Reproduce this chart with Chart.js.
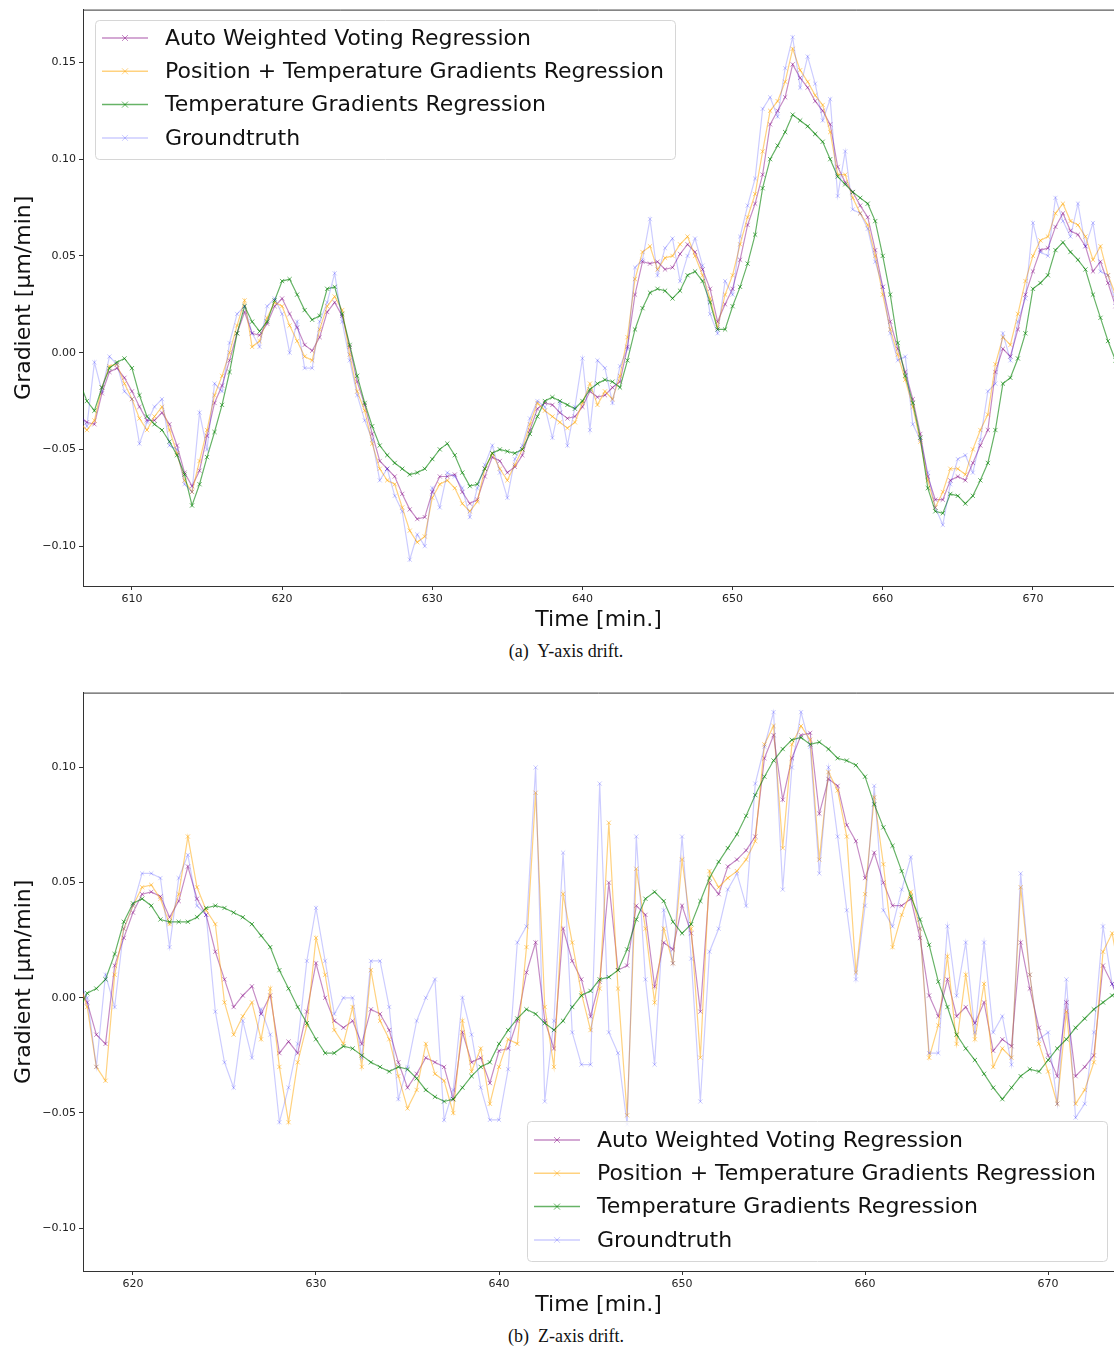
<!DOCTYPE html>
<html lang="en">
<head>
<meta charset="UTF-8">
<title>Y / Z axis drift gradients</title>
<script src="https://cdn.jsdelivr.net/npm/chart.js"></script>
<style>
  body { margin: 0; background: #fff; width: 1114px; height: 1349px; overflow: hidden; position: relative; }
  .plot { position: absolute; left: 0; }
  #chartA { top: 0; }
  #chartB { top: 683px; }
  .caption {
    position: absolute; left: 0; width: 1132px; text-align: center;
    font-family: 'Liberation Serif', 'DejaVu Serif', serif; font-size: 18px; color: #111;
  }
</style>
</head>
<body>
<canvas id="chartA" class="plot" width="1114" height="640"></canvas>
<div class="caption" style="top:641px">(a)&nbsp; Y-axis drift.</div>
<canvas id="chartB" class="plot" width="1114" height="642"></canvas>
<div class="caption" style="top:1326px">(b)&nbsp; Z-axis drift.</div>

<script>
// ---- data (gradient in um/min, sampled every 0.5 min) ----
const labels = ['Auto Weighted Voting Regression', 'Position + Temperature Gradients Regression',
                'Temperature Gradients Regression', 'Groundtruth'];

// (a) Y-axis, first sample at 606.5 min
const startA = 606.5;
const awvA = [
  -0.033, -0.036, -0.037, -0.021, -0.010, -0.008, -0.013, -0.020, -0.028, -0.035,
  -0.035, -0.031, -0.037, -0.048, -0.062, -0.069, -0.061, -0.043, -0.026, -0.017,
  -0.004, 0.010, 0.021, 0.010, 0.009, 0.015, 0.024, 0.028, 0.020, 0.013,
  0.004, 0.001, 0.008, 0.021, 0.026, 0.019, 0.003, -0.015, -0.027, -0.042,
  -0.056, -0.060, -0.064, -0.073, -0.081, -0.086, -0.085, -0.072, -0.064, -0.064,
  -0.063, -0.072, -0.078, -0.076, -0.064, -0.054, -0.056, -0.062, -0.059, -0.053,
  -0.040, -0.029, -0.026, -0.027, -0.031, -0.034, -0.033, -0.028, -0.020, -0.023,
  -0.022, -0.018, -0.015, 0.003, 0.030, 0.047, 0.046, 0.047, 0.043, 0.044,
  0.051, 0.056, 0.052, 0.043, 0.033, 0.016, 0.025, 0.033, 0.048, 0.066,
  0.077, 0.092, 0.118, 0.125, 0.132, 0.149, 0.142, 0.137, 0.130, 0.125,
  0.118, 0.096, 0.088, 0.083, 0.076, 0.070, 0.053, 0.034, 0.016, 0.002,
  -0.010, -0.024, -0.042, -0.064, -0.076, -0.076, -0.066, -0.064, -0.066, -0.057,
  -0.048, -0.040, -0.010, 0.002, -0.002, 0.012, 0.030, 0.042, 0.053, 0.054,
  0.065, 0.072, 0.063, 0.061, 0.055, 0.042, 0.047, 0.036, 0.024
];
const posA = [
  -0.036, -0.040, -0.035, -0.018, -0.007, -0.006, -0.016, -0.024, -0.034, -0.040,
  -0.033, -0.028, -0.040, -0.052, -0.066, -0.072, -0.056, -0.040, -0.022, -0.012,
  0.000, 0.014, 0.027, 0.003, 0.006, 0.018, 0.026, 0.024, 0.014, 0.006,
  -0.002, -0.004, 0.012, 0.024, 0.029, 0.022, -0.001, -0.020, -0.030, -0.047,
  -0.060, -0.066, -0.068, -0.080, -0.092, -0.098, -0.095, -0.075, -0.068, -0.066,
  -0.070, -0.078, -0.082, -0.077, -0.060, -0.052, -0.060, -0.066, -0.058, -0.050,
  -0.037, -0.026, -0.030, -0.033, -0.036, -0.039, -0.036, -0.026, -0.016, -0.027,
  -0.020, -0.024, -0.012, 0.008, 0.038, 0.052, 0.055, 0.043, 0.049, 0.050,
  0.056, 0.060, 0.050, 0.040, 0.028, 0.013, 0.030, 0.040, 0.056, 0.070,
  0.082, 0.104, 0.125, 0.130, 0.140, 0.157, 0.146, 0.140, 0.133, 0.128,
  0.114, 0.092, 0.092, 0.080, 0.072, 0.066, 0.050, 0.030, 0.012, -0.001,
  -0.014, -0.028, -0.046, -0.066, -0.080, -0.072, -0.060, -0.060, -0.063, -0.050,
  -0.040, -0.032, -0.006, 0.008, 0.004, 0.020, 0.037, 0.050, 0.058, 0.060,
  0.072, 0.077, 0.068, 0.066, 0.060, 0.048, 0.055, 0.040, 0.030
];
const tempA = [
  -0.015, -0.025, -0.030, -0.018, -0.008, -0.005, -0.003, -0.008, -0.022, -0.033,
  -0.037, -0.040, -0.046, -0.053, -0.063, -0.079, -0.068, -0.054, -0.041, -0.027,
  -0.010, 0.010, 0.024, 0.016, 0.011, 0.016, 0.027, 0.037, 0.038, 0.030,
  0.022, 0.017, 0.019, 0.033, 0.034, 0.020, 0.004, -0.012, -0.026, -0.038,
  -0.048, -0.053, -0.057, -0.060, -0.063, -0.062, -0.060, -0.055, -0.050, -0.047,
  -0.053, -0.062, -0.069, -0.068, -0.060, -0.052, -0.050, -0.051, -0.052, -0.050,
  -0.042, -0.033, -0.025, -0.023, -0.025, -0.027, -0.029, -0.025, -0.019, -0.016,
  -0.014, -0.015, -0.018, -0.004, 0.012, 0.023, 0.031, 0.033, 0.032, 0.028,
  0.032, 0.040, 0.042, 0.037, 0.026, 0.012, 0.012, 0.024, 0.034, 0.046,
  0.061, 0.085, 0.100, 0.107, 0.114, 0.123, 0.120, 0.117, 0.113, 0.109,
  0.100, 0.091, 0.087, 0.083, 0.080, 0.077, 0.068, 0.050, 0.030, 0.005,
  -0.012, -0.026, -0.044, -0.070, -0.082, -0.083, -0.073, -0.074, -0.078, -0.074,
  -0.066, -0.057, -0.040, -0.016, -0.013, -0.003, 0.010, 0.033, 0.036, 0.040,
  0.053, 0.057, 0.052, 0.048, 0.043, 0.030, 0.018, 0.006, -0.004
];
const truthA = [
  -0.030, -0.038, -0.005, -0.020, -0.002, -0.006, -0.020, -0.024, -0.047, -0.036,
  -0.028, -0.024, -0.048, -0.050, -0.068, -0.072, -0.031, -0.050, -0.016, -0.020,
  0.005, 0.020, 0.024, 0.010, 0.003, 0.024, 0.028, 0.020, 0.000, 0.016,
  -0.008, -0.008, 0.016, 0.026, 0.041, 0.016, -0.004, -0.022, -0.035, -0.045,
  -0.066, -0.060, -0.074, -0.082, -0.107, -0.094, -0.100, -0.070, -0.080, -0.062,
  -0.064, -0.070, -0.085, -0.070, -0.058, -0.048, -0.062, -0.075, -0.055, -0.048,
  -0.034, -0.025, -0.028, -0.044, -0.026, -0.048, -0.028, -0.003, -0.040, -0.004,
  -0.008, -0.026, -0.007, 0.002, 0.044, 0.048, 0.069, 0.040, 0.054, 0.059,
  0.037, 0.050, 0.059, 0.045, 0.020, 0.010, 0.037, 0.030, 0.060, 0.076,
  0.090, 0.126, 0.132, 0.122, 0.147, 0.163, 0.137, 0.153, 0.139, 0.120,
  0.131, 0.081, 0.104, 0.074, 0.072, 0.064, 0.047, 0.034, 0.010, -0.004,
  -0.002, -0.037, -0.045, -0.062, -0.080, -0.089, -0.068, -0.055, -0.053, -0.062,
  -0.045, -0.020, -0.016, 0.010, -0.004, 0.016, 0.028, 0.067, 0.052, 0.050,
  0.080, 0.068, 0.060, 0.077, 0.055, 0.067, 0.042, 0.040, 0.026
];

// (b) Z-axis, first sample at 617.0 min
const startB = 617.0;
const awvB = [
  0.006, -0.002, -0.016, -0.020, 0.014, 0.026, 0.037, 0.045, 0.046, 0.044,
  0.035, 0.042, 0.057, 0.043, 0.036, 0.020, 0.008, -0.004, 0.001, 0.005,
  -0.007, 0.001, -0.024, -0.019, -0.024, -0.006, 0.015, 0.000, -0.010, -0.013,
  -0.010, -0.020, -0.005, -0.007, -0.014, -0.028, -0.039, -0.033, -0.026, -0.028,
  -0.030, -0.044, -0.015, -0.028, -0.026, -0.037, -0.023, -0.022, -0.010, 0.011,
  0.024, -0.010, -0.022, 0.030, 0.016, 0.008, -0.008, 0.007, 0.050, 0.012,
  0.014, 0.040, 0.036, 0.005, 0.024, 0.021, 0.040, 0.028, -0.006, 0.050,
  0.045, 0.057, 0.060, 0.064, 0.070, 0.104, 0.114, 0.086, 0.104, 0.114,
  0.115, 0.080, 0.095, 0.092, 0.075, 0.068, 0.052, 0.063, 0.050, 0.040,
  0.040, 0.043, 0.026, 0.001, -0.008, 0.008, -0.008, -0.004, -0.011, -0.002,
  -0.023, -0.018, -0.021, 0.024, 0.004, -0.013, -0.025, -0.034, -0.002, -0.034,
  -0.030, -0.025, 0.014, 0.006, -0.004
];
const posB = [
  0.008, -0.004, -0.030, -0.036, 0.010, 0.030, 0.040, 0.048, 0.049, 0.043,
  0.032, 0.045, 0.070, 0.048, 0.038, 0.032, -0.002, -0.016, -0.008, -0.002,
  -0.018, 0.004, -0.030, -0.054, -0.028, -0.012, 0.026, 0.010, -0.014, -0.020,
  -0.004, -0.030, 0.012, -0.010, -0.018, -0.034, -0.048, -0.040, -0.020, -0.033,
  -0.036, -0.050, -0.010, -0.032, -0.022, -0.046, -0.030, -0.018, -0.020, 0.022,
  0.089, -0.004, -0.030, 0.045, 0.024, 0.002, -0.014, 0.004, 0.076, 0.004,
  -0.051, 0.056, 0.030, -0.002, 0.030, 0.015, 0.060, 0.030, -0.026, 0.055,
  0.048, 0.052, 0.055, 0.060, 0.068, 0.110, 0.118, 0.065, 0.110, 0.118,
  0.112, 0.060, 0.098, 0.090, 0.070, 0.011, 0.045, 0.087, 0.058, 0.022,
  0.036, 0.046, 0.030, -0.026, -0.012, 0.018, -0.020, 0.010, -0.018, 0.006,
  -0.030, -0.022, -0.026, 0.048, 0.010, -0.020, -0.032, -0.046, -0.006, -0.046,
  -0.040, -0.028, 0.020, 0.028, 0.006
];
const tempB = [
  -0.006, 0.002, 0.004, 0.008, 0.019, 0.033, 0.041, 0.043, 0.040, 0.034,
  0.033, 0.033, 0.033, 0.035, 0.039, 0.040, 0.039, 0.037, 0.035, 0.032,
  0.027, 0.022, 0.012, 0.004, -0.004, -0.011, -0.018, -0.024, -0.024, -0.021,
  -0.022, -0.025, -0.028, -0.030, -0.032, -0.030, -0.031, -0.035, -0.040, -0.043,
  -0.045, -0.044, -0.039, -0.034, -0.030, -0.028, -0.020, -0.014, -0.009, -0.005,
  -0.007, -0.011, -0.014, -0.010, -0.004, 0.001, 0.003, 0.008, 0.009, 0.012,
  0.021, 0.034, 0.043, 0.046, 0.042, 0.033, 0.028, 0.032, 0.042, 0.052,
  0.059, 0.065, 0.071, 0.079, 0.088, 0.096, 0.103, 0.108, 0.112, 0.113,
  0.110, 0.111, 0.108, 0.104, 0.103, 0.101, 0.096, 0.084, 0.074, 0.066,
  0.055, 0.044, 0.034, 0.023, 0.007, -0.004, -0.016, -0.022, -0.027, -0.033,
  -0.039, -0.044, -0.039, -0.034, -0.031, -0.032, -0.027, -0.022, -0.018, -0.013,
  -0.009, -0.005, -0.002, 0.001, 0.004
];
const truthB = [
  0.008, 0.000, -0.030, 0.010, -0.004, 0.030, 0.040, 0.054, 0.054, 0.052,
  0.022, 0.052, 0.062, 0.040, 0.036, -0.006, -0.028, -0.039, -0.010, -0.026,
  -0.005, -0.016, -0.054, -0.039, -0.020, 0.016, 0.039, 0.016, -0.007, 0.000,
  0.000, -0.026, 0.016, 0.016, -0.004, -0.044, -0.030, -0.010, 0.000, 0.008,
  -0.053, -0.040, 0.000, -0.016, -0.039, -0.053, -0.053, -0.031, 0.024, 0.031,
  0.100, -0.045, -0.010, 0.063, -0.015, -0.029, -0.029, 0.093, -0.015, -0.024,
  -0.055, 0.070, 0.008, -0.029, 0.038, 0.015, 0.070, 0.017, -0.045, 0.020,
  0.030, 0.047, 0.054, 0.040, 0.093, 0.109, 0.124, 0.047, 0.100, 0.124,
  0.109, 0.054, 0.100, 0.070, 0.038, 0.008, 0.040, 0.092, 0.038, 0.031,
  0.047, 0.061, 0.030, -0.024, -0.024, 0.031, 0.001, 0.024, -0.015, 0.024,
  -0.015, -0.008, -0.029, 0.054, 0.010, -0.018, -0.015, -0.046, 0.008, -0.052,
  -0.046, -0.015, 0.031, 0.006, -0.004
];

const xTicksA = [610, 620, 630, 640, 650, 660, 670];
const yTicksA = [-0.10, -0.05, 0.00, 0.05, 0.10, 0.15];
const xTicksB = [620, 630, 640, 650, 660, 670];
const yTicksB = [-0.10, -0.05, 0.00, 0.05, 0.10];

const colors = ['rgba(128,0,128,0.45)', 'rgba(255,165,0,0.5)', 'rgba(0,128,0,0.6)', 'rgba(0,0,255,0.2)'];

Chart.defaults.font.family = "'DejaVu Sans', sans-serif";

// legend drawn inside the axes like matplotlib's
const boxLegend = {
  id: 'boxLegend',
  afterDraw(chart, args, o) {
    const ctx = chart.ctx;
    ctx.save();
    ctx.beginPath();
    ctx.roundRect(o.x + 0.5, o.y + 0.5, o.w, o.h, 4);
    ctx.fillStyle = 'rgba(255,255,255,0.8)';
    ctx.fill();
    ctx.strokeStyle = '#d6d6d6';
    ctx.lineWidth = 1;
    ctx.stroke();
    ctx.font = "22px 'DejaVu Sans'";
    ctx.textBaseline = 'middle';
    chart.data.datasets.forEach((ds, i) => {
      const y = o.y + o.first + i * o.gap;
      ctx.strokeStyle = ds.borderColor;
      ctx.lineWidth = 1.5;
      ctx.beginPath();
      ctx.moveTo(o.x + 7, y);
      ctx.lineTo(o.x + 53, y);
      ctx.stroke();
      const cx = o.x + 30, r = 3;
      ctx.lineWidth = 1;
      ctx.beginPath();
      ctx.moveTo(cx - r, y - r); ctx.lineTo(cx + r, y + r);
      ctx.moveTo(cx + r, y - r); ctx.lineTo(cx - r, y + r);
      ctx.stroke();
      ctx.fillStyle = '#111';
      ctx.fillText(ds.label, o.x + 70, y + 1);
    });
    ctx.restore();
  }
};

const topSpine = {
  id: 'topSpine',
  afterDatasetsDraw(chart) {
    const { ctx, chartArea: a } = chart;
    ctx.save();
    ctx.strokeStyle = '#333';
    ctx.lineWidth = 1;
    ctx.beginPath();
    ctx.moveTo(a.left, a.top + 0.5);
    ctx.lineTo(a.right, a.top + 0.5);
    ctx.stroke();
    ctx.restore();
  }
};

function series(i, vals, t0) {
  return {
    label: labels[i],
    data: vals.map((v, k) => ({ x: t0 + k * 0.5, y: v })),
    borderColor: colors[i],
    backgroundColor: colors[i],
    pointBorderColor: colors[i],
    borderWidth: 1.2,
    pointStyle: 'crossRot',
    pointRadius: 3,
    pointBorderWidth: 1,
    tension: 0,
    fill: false,
    clip: 0,
    order: 4 - i
  };
}

const fmtY = v => (v < 0 ? '\u2212' : '') + Math.abs(v).toFixed(2);

function makeChart(id, sets, t0, xr, yr, xTicks, yTicks, legendBox) {
  const axisGrid = { display: true, drawOnChartArea: false, drawTicks: true, tickLength: 4, color: '#333' };
  const axisBorder = { display: true, color: '#333', width: 1 };
  return new Chart(document.getElementById(id), {
    type: 'line',
    data: { datasets: sets.map((vals, i) => series(i, vals, t0)) },
    options: {
      responsive: false,
      animation: false,
      devicePixelRatio: 1,
      layout: { autoPadding: false, padding: { top: 8, right: 0, bottom: 0, left: 0 } },
      plugins: {
        legend: { display: false },
        tooltip: { enabled: false },
        boxLegend: legendBox
      },
      scales: {
        x: {
          type: 'linear', min: xr[0], max: xr[1],
          afterBuildTicks: s => { s.ticks = xTicks.map(v => ({ value: v })); },
          afterFit: s => { s.height = 54; },
          ticks: { font: { size: 11 }, color: '#222', padding: 3, maxRotation: 0, callback: v => String(v) },
          grid: axisGrid, border: axisBorder,
          title: { display: true, text: 'Time [min.]', font: { size: 22 }, color: '#111', padding: { top: 0, bottom: 7 } }
        },
        y: {
          type: 'linear', min: yr[0], max: yr[1],
          afterBuildTicks: s => { s.ticks = yTicks.map(v => ({ value: v })); },
          afterFit: s => { s.width = 83; },
          ticks: { font: { size: 11 }, color: '#222', padding: 3, callback: fmtY },
          grid: axisGrid, border: axisBorder,
          title: { display: true, text: 'Gradient [\u03bcm/min]', font: { size: 22 }, color: '#111', padding: { top: 11, bottom: 0 } }
        }
      }
    },
    plugins: [boxLegend, topSpine]
  });
}

makeChart('chartA', [awvA, posA, tempA, truthA], startA, [606.74, 675.4], [-0.1206, 0.1773],
  xTicksA, yTicksA, { x: 95, y: 20, w: 580, h: 139, first: 18, gap: 33.3 });
makeChart('chartB', [awvB, posB, tempB, truthB], startB, [617.27, 673.6], [-0.1186, 0.1325],
  xTicksB, yTicksB, { x: 527, y: 438, w: 580, h: 140, first: 19, gap: 33.3 });
</script>
</body>
</html>
